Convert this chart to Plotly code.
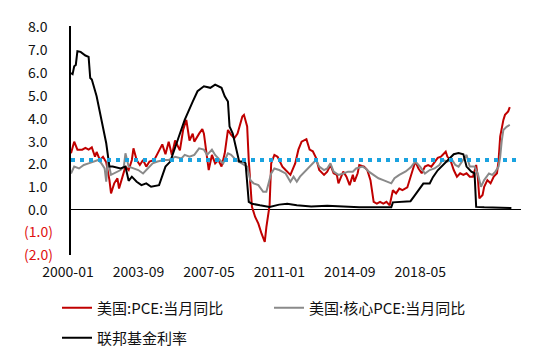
import plotly.graph_objects as go

# ---------------- data ----------------
x_labels = ["2000-01", "2003-09", "2007-05", "2011-01", "2014-09", "2018-05"]
label_step = 44  # months between axis labels

# 美国:PCE:当月同比
pce_m = [0, 2, 4, 7, 9, 11, 13, 15, 16, 18, 20, 22, 24, 25, 27, 29, 30, 32, 34, 36,
         38, 39, 41, 43, 45, 47, 49, 52, 55, 57, 59, 61, 63, 65, 68, 70, 72, 74, 76, 77,
         80, 82, 83, 85, 86, 88, 90, 92, 94, 96, 98, 100, 102, 104, 107, 108, 110, 111, 113, 115,
         117, 119, 121, 122, 124, 125, 127, 129, 132, 134, 137, 140, 142, 144, 147, 149, 151, 153, 155, 158,
         160, 162, 164, 166, 167, 170, 172, 174, 176, 177, 179, 180, 183, 185, 187, 189, 191, 193, 195, 197,
         199, 201, 203, 205, 207, 210, 212, 215, 217, 219, 221, 223, 225, 227, 229, 231, 234, 235, 237, 239,
         241, 243, 245, 247, 249, 251, 253, 254, 255, 257, 258, 260, 262, 264, 266, 267, 268, 270, 271, 273,
         274]
pce_v = [2.44, 2.95, 2.6, 2.6, 2.68, 2.6, 2.7, 2.29, 2.5, 2.15, 2.29, 2.05, 1.27, 0.69, 1.13, 1.35, 0.9, 1.42, 1.86, 1.71,
         2.15, 2.66, 2.15, 1.93, 2.15, 1.86, 2.08, 2.15, 2.6, 2.83, 2.4, 2.95, 2.37, 3.0, 2.57, 3.46, 3.9, 3.0, 3.3, 2.95,
         3.3, 3.5, 3.3, 2.13, 1.71, 2.37, 2.0, 2.15, 1.86, 2.44, 3.46, 3.25, 3.1, 3.3, 4.05, 4.12, 3.61, 2.13, 0.1, -0.34,
         -0.63, -1.07, -1.43, -0.78, 0.17, 2.0, 2.37, 2.29, 1.86, 1.71, 1.5, 2.0, 2.6, 2.95, 3.06, 2.6, 2.53, 2.24, 1.71, 1.5,
         1.64, 1.93, 1.57, 1.5, 1.13, 1.64, 1.42, 1.05, 1.5, 1.2, 1.57, 1.93, 1.86, 1.71, 1.27, 0.32, 0.24, 0.32, 0.24, 0.32,
         0.17, 0.83, 0.69, 0.9, 0.83, 0.95, 1.42, 2.08, 1.78, 1.57, 1.86, 1.93, 1.86, 2.08, 2.24, 2.29, 2.51, 2.3, 2.13, 1.71,
         1.42, 1.57, 1.5, 1.57, 1.42, 1.42, 1.93, 1.42, 0.47, 0.62, 0.98, 1.27, 1.13, 1.42, 1.57, 2.13, 3.17, 3.9, 4.12, 4.27,
         4.46]

# 美国:核心PCE:当月同比
core_m = [0, 2, 5, 8, 11, 14, 17, 19, 21, 22, 23, 25, 27, 31, 33, 34, 36, 39, 42, 45,
          48, 51, 54, 58, 61, 65, 69, 71, 74, 77, 80, 83, 85, 88, 90, 93, 95, 98, 100, 103,
          107, 110, 112, 114, 117, 120, 122, 123, 125, 127, 130, 134, 137, 139, 141, 143, 146, 149, 151, 153,
          155, 158, 160, 162, 164, 167, 170, 173, 176, 178, 182, 184, 186, 189, 192, 195, 198, 200, 202, 205,
          209, 212, 215, 218, 221, 224, 227, 230, 232, 235, 238, 240, 242, 245, 247, 249, 252, 254, 256, 258,
          261, 263, 265, 267, 268, 269, 270, 272, 274]
core_v = [1.56, 1.86, 1.78, 1.93, 2.0, 2.08, 2.15, 2.0, 1.78, 1.2, 2.15, 1.5, 1.56, 1.71, 1.86, 2.44, 1.86, 1.78, 1.71, 1.56,
          1.78, 2.0, 2.08, 2.15, 2.15, 2.29, 2.22, 2.37, 2.29, 2.37, 2.66, 2.6, 2.37, 2.6, 2.37, 2.15, 2.0, 2.44, 2.37, 2.15,
          2.0, 1.86, 1.27, 1.13, 1.05, 0.76, 0.76, 1.05, 1.56, 1.78, 1.71, 1.56, 1.2, 1.42, 1.2, 1.42, 1.64, 1.86, 2.0, 2.15,
          1.86, 1.71, 1.78, 2.0, 1.64, 1.5, 1.56, 1.64, 1.64, 1.78, 1.86, 1.78, 1.64, 1.5, 1.35, 1.27, 1.2, 1.13, 1.35, 1.5,
          1.65, 1.82, 2.08, 1.86, 1.56, 1.71, 1.78, 1.93, 2.15, 2.08, 2.15, 1.93, 1.86, 2.15, 2.37, 1.86, 1.86, 1.56, 0.98, 1.27,
          1.56, 1.5, 1.64, 1.86, 2.29, 3.0, 3.46, 3.6, 3.68]

# 联邦基金利率
ffr_m = [0, 1, 2, 3, 4, 6, 9, 11, 12, 13, 16, 18, 20, 22, 24, 26, 31, 34, 36, 38,
         41, 44, 47, 50, 55, 57, 59, 62, 64, 67, 71, 74, 76, 79, 83, 87, 90, 94, 96, 98,
         99, 101, 103, 105, 108, 109, 111, 113, 118, 124, 130, 135, 141, 150, 160, 170, 180, 190, 200, 201,
         208, 212, 214, 217, 220, 224, 226, 229, 232, 236, 239, 242, 245, 247, 250, 252, 253, 258, 265, 270,
         275]
ffr_v = [5.95, 5.9, 6.24, 6.3, 6.9, 6.87, 6.71, 6.65, 5.73, 5.66, 4.93, 4.27, 3.6, 2.88, 1.86, 1.86, 1.78, 1.86, 1.24, 1.42,
         1.2, 1.05, 1.13, 0.98, 1.05, 1.42, 1.86, 2.08, 2.52, 3.1, 3.9, 4.34, 4.7, 5.15, 5.37, 5.3, 5.44, 5.3, 4.93, 4.7,
         3.61, 3.3, 2.73, 2.08, 2.08, 2.0, 0.32, 0.24, 0.17, 0.1, 0.2, 0.24, 0.17, 0.12, 0.15, 0.1, 0.08, 0.08, 0.08, 0.3,
         0.35, 0.35, 0.54, 0.83, 1.12, 1.12, 1.4, 1.7, 1.9, 2.2, 2.4, 2.45, 2.4, 1.86, 1.64, 1.57, 0.1, 0.08, 0.08, 0.06,
         0.05]

# dotted reference level
target_m = [0, 279]
target_v = [2.15, 2.15]

y_ticks = [8, 7, 6, 5, 4, 3, 2, 1, 0, -1, -2]

# ---------------- styling ----------------
FONT = "Noto Sans CJK SC, SimHei, sans-serif"
RED = "#C00000"
GREY = "#8A8A8A"
BLACK = "#000000"
BLUE = "#1AA3E0"
NEG_RED = "#E01010"

# the page body has an 8px margin: draw the figure 8px smaller and shift margins
W, H, OFF = 550 - 8, 361 - 8, 8


def ylab(v):
    return "(%.1f)" % abs(v) if v < 0 else "%.1f" % v


fig = go.Figure()
fig.add_trace(go.Scatter(x=pce_m, y=pce_v, mode="lines", name="美国:PCE:当月同比",
                         line=dict(color=RED, width=2), legend="legend"))
fig.add_trace(go.Scatter(x=core_m, y=core_v, mode="lines", name="美国:核心PCE:当月同比",
                         line=dict(color=GREY, width=2), legend="legend"))
fig.add_trace(go.Scatter(x=ffr_m, y=ffr_v, mode="lines", name="联邦基金利率",
                         line=dict(color=BLACK, width=2), legend="legend2"))
fig.add_trace(go.Scatter(x=target_m, y=target_v, mode="lines", showlegend=False,
                         line=dict(color=BLUE, width=4, dash="4px,5px")))

# y tick labels (Excel style: negatives red in parentheses)
for v in y_ticks:
    fig.add_annotation(x=0, xref="paper", y=v, yref="y", text=ylab(v), showarrow=False,
                       xanchor="right", yanchor="middle", xshift=-16 if v < 0 else -21,
                       yshift=1 if v < 0 else 0,
                       font=dict(size=14, color=NEG_RED if v < 0 else "#111"))

fig.update_layout(
    width=W, height=H,
    margin=dict(l=71 - OFF, r=29, t=26 - OFF, b=106, autoexpand=False),
    paper_bgcolor="white", plot_bgcolor="white",
    font=dict(family=FONT, size=13, color="#111"),
    xaxis=dict(range=[0, 281], showgrid=False, zeroline=False, showline=False,
               tickvals=[i * label_step for i in range(len(x_labels))], ticktext=x_labels,
               ticks="", tickfont=dict(size=14, color="#111"), ticklabelshift=-3,
               ticklabelstandoff=7, automargin=False),
    yaxis=dict(range=[-2, 8], showgrid=False, zeroline=True, zerolinecolor="black",
               zerolinewidth=1, showline=True, linecolor="black", linewidth=1.5,
               tickvals=y_ticks, showticklabels=False, ticks="", automargin=False),
    legend=dict(orientation="h", xref="container", yref="container",
                x=(57 - OFF) / W, xanchor="left", y=1 - (308 - OFF) / H, yanchor="middle",
                font=dict(size=15, color="#111"), entrywidth=167, entrywidthmode="pixels",
                bgcolor="rgba(0,0,0,0)"),
    legend2=dict(orientation="h", xref="container", yref="container",
                 x=(57 - OFF) / W, xanchor="left", y=1 - (338 - OFF) / H, yanchor="middle",
                 font=dict(size=15, color="#111"), bgcolor="rgba(0,0,0,0)"),
    showlegend=True,
)

fig.write_html("out.html")
